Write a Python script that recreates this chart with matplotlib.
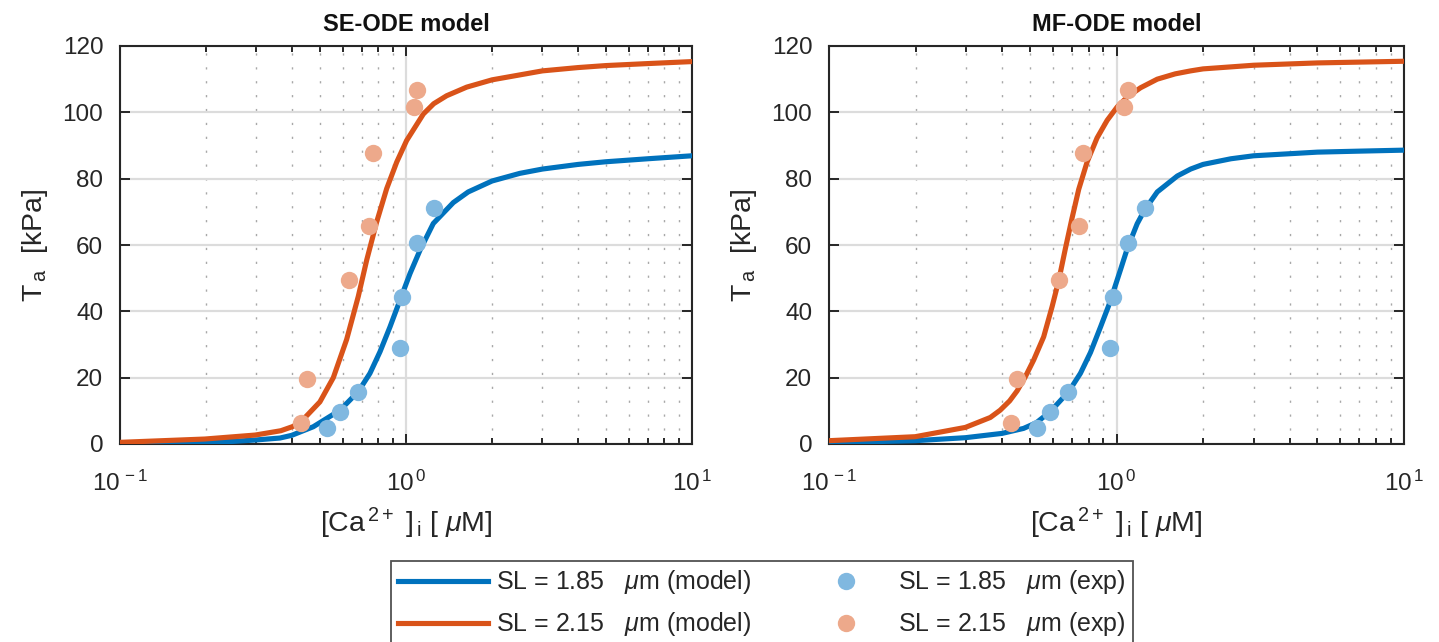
import numpy as np
import matplotlib
matplotlib.use('Agg')
import matplotlib.pyplot as plt
from matplotlib.lines import Line2D
from matplotlib.ticker import FuncFormatter

plt.rcParams['font.family'] = ['Liberation Sans', 'DejaVu Sans']
plt.rcParams['mathtext.fontset'] = 'custom'
plt.rcParams['mathtext.rm'] = 'Liberation Sans'
plt.rcParams['mathtext.it'] = 'Liberation Sans:italic'
plt.rcParams['mathtext.bf'] = 'Liberation Sans:bold'

# experimental points (same in both panels)
exp_ca_185 = [0.528, 0.589, 0.678, 0.951, 0.971, 1.093, 1.253]
exp_ta_185 = [4.9, 9.5, 15.6, 28.8, 44.4, 60.7, 71.2]
exp_ca_215 = [0.430, 0.451, 0.630, 0.741, 0.765, 1.064, 1.095]
exp_ta_215 = [6.2, 19.5, 49.4, 65.8, 87.8, 101.7, 106.7]

# SE-ODE model curves
se_ca_185 = [0.1, 0.198, 0.25, 0.297, 0.3625, 0.398, 0.474, 0.588, 0.681, 0.748, 0.811, 0.879,
             0.953, 1.033, 1.119, 1.246, 1.464, 1.65, 2, 2.5, 3, 4, 5, 7, 10]
se_ta_185 = [0.1, 0.5, 0.8, 1.2, 1.8, 2.6, 5.2, 10.2, 15.8, 21.3, 27.8, 35.3,
             43.4, 51.4, 58.4, 66.5, 72.8, 76.0, 79.3, 81.6, 82.9, 84.3, 85.1, 86.0, 86.9]
se_ca_215 = [0.1, 0.198, 0.297, 0.365, 0.4, 0.426, 0.5, 0.557, 0.620, 0.681, 0.729, 0.790,
             0.856, 0.928, 1.005, 1.150, 1.25, 1.387, 1.63, 2, 3, 4, 5, 7, 10]
se_ta_215 = [0.5, 1.5, 2.7, 4.0, 5.2, 6.4, 12.7, 20.0, 31.5, 44.5, 55.5, 67.0,
             77.0, 85.0, 91.5, 99.5, 102.6, 105.0, 107.6, 109.8, 112.5, 113.5, 114.1, 114.7, 115.3]

# MF-ODE model curves
mf_ca_185 = [0.1, 0.1994, 0.298, 0.40, 0.475, 0.526, 0.589, 0.682, 0.749, 0.812, 0.880,
             0.940, 0.974, 1.033, 1.089, 1.180, 1.253, 1.386, 1.627, 1.811, 2, 2.5, 3, 5, 7, 10]
mf_ta_185 = [0.4, 1.0, 1.9, 3.2, 4.7, 6.4, 9.8, 15.8, 21.3, 27.6, 35.3,
             41.8, 45.8, 52.6, 58.8, 66.4, 70.6, 76.0, 80.8, 82.9, 84.3, 86.0, 86.9, 88.0, 88.3, 88.6]
mf_ca_215 = [0.1, 0.1994, 0.298, 0.364, 0.394, 0.425, 0.451, 0.48, 0.515, 0.558, 0.597, 0.630,
             0.664, 0.700, 0.739, 0.790, 0.856, 0.928, 1.005, 1.089, 1.212, 1.386, 1.6, 1.811, 2, 3, 5, 10]
mf_ta_215 = [1.0, 2.2, 5.0, 8.0, 10.2, 13.0, 16.0, 20.0, 25.3, 32.3, 41.4, 49.4,
             58.9, 68.0, 76.8, 85.0, 92.3, 97.6, 101.6, 104.6, 107.4, 110.0, 111.6, 112.5, 113.1,
             114.2, 114.9, 115.4]

titles = ['SE-ODE model', 'MF-ODE model']
c_blue = '#0072BD'
c_orange = '#D95319'
c_lblue = '#80B8E0'
c_lorange = '#EDA98B'
txt = '#262626'


def dec_fmt(v, pos):
    e = int(round(np.log10(v)))
    return r'10$^{\,%d}$' % e


fig = plt.figure(figsize=(14.39, 6.42), dpi=100)
ax1 = fig.add_axes([120/1439, 1-444/642, 572/1439, 398/642])
ax2 = fig.add_axes([829/1439, 1-444/642, 575/1439, 398/642])

curves = [(se_ca_185, se_ta_185, se_ca_215, se_ta_215),
          (mf_ca_185, mf_ta_185, mf_ca_215, mf_ta_215)]

for ax, title, cv in zip([ax1, ax2], titles, curves):
    ax.set_xscale('log')
    ax.plot(cv[0], cv[1], color=c_blue, lw=3.7, solid_joinstyle='round', zorder=3)
    ax.plot(cv[2], cv[3], color=c_orange, lw=3.7, solid_joinstyle='round', zorder=3)
    ax.plot(exp_ca_185, exp_ta_185, 'o', color=c_lblue, ms=12.5, mec='none', zorder=4)
    ax.plot(exp_ca_215, exp_ta_215, 'o', color=c_lorange, ms=12.5, mec='none', zorder=4)
    ax.set_xlim(0.1, 10)
    ax.set_ylim(0, 120)
    ax.set_yticks(np.arange(0, 121, 20))
    ax.xaxis.set_major_formatter(FuncFormatter(dec_fmt))
    ax.grid(True, which='major', color='#dcdcdc', lw=1.6, zorder=0)
    ax.grid(True, which='minor', axis='x', color='#a8a8a8', lw=1.0,
            linestyle=(0, (1.6, 8.4)), zorder=0)
    ax.set_axisbelow(True)
    ax.tick_params(which='both', direction='in', top=True, right=True, colors=txt,
                   labelsize=17.5, width=1.4)
    ax.tick_params(which='major', length=7)
    ax.tick_params(axis='y', which='major', pad=12)
    ax.tick_params(axis='x', which='major', pad=19)
    ax.tick_params(which='minor', length=4)
    for s in ax.spines.values():
        s.set_color(txt)
        s.set_linewidth(1.5)
    ax.set_title(title, fontsize=17, fontweight='bold', color='#111111', pad=11)
    ax.set_xlabel(r'[Ca$^{\,2+}$ ]$_{\,\mathrm{i}}$ [ $\mu$M]', fontsize=20.5, color=txt, labelpad=7)
    ax.set_ylabel(r'T$_{\,\mathrm{a}}$  [kPa]', fontsize=20.5, color=txt, labelpad=9)

handles = [Line2D([], [], color=c_blue, lw=3.7),
           Line2D([], [], color=c_orange, lw=3.7),
           Line2D([], [], marker='o', ls='none', color=c_lblue, ms=12.5, mec='none'),
           Line2D([], [], marker='o', ls='none', color=c_lorange, ms=12.5, mec='none')]
labels = [r'SL = 1.85   $\mu$m (model)', r'SL = 2.15   $\mu$m (model)',
          r'SL = 1.85   $\mu$m (exp)', r'SL = 2.15   $\mu$m (exp)']
leg = fig.legend(handles, labels, loc='upper center', bbox_to_anchor=(762/1439, 1-561/642),
                 ncol=2, fontsize=18, frameon=True, fancybox=False, edgecolor=txt,
                 handlelength=3.6, handletextpad=0.3, columnspacing=2.0, borderpad=0.3,
                 borderaxespad=0, labelspacing=0.55)
leg.get_frame().set_linewidth(1.3)
for t in leg.get_texts():
    t.set_color(txt)

fig.savefig('out.png', dpi=100)
